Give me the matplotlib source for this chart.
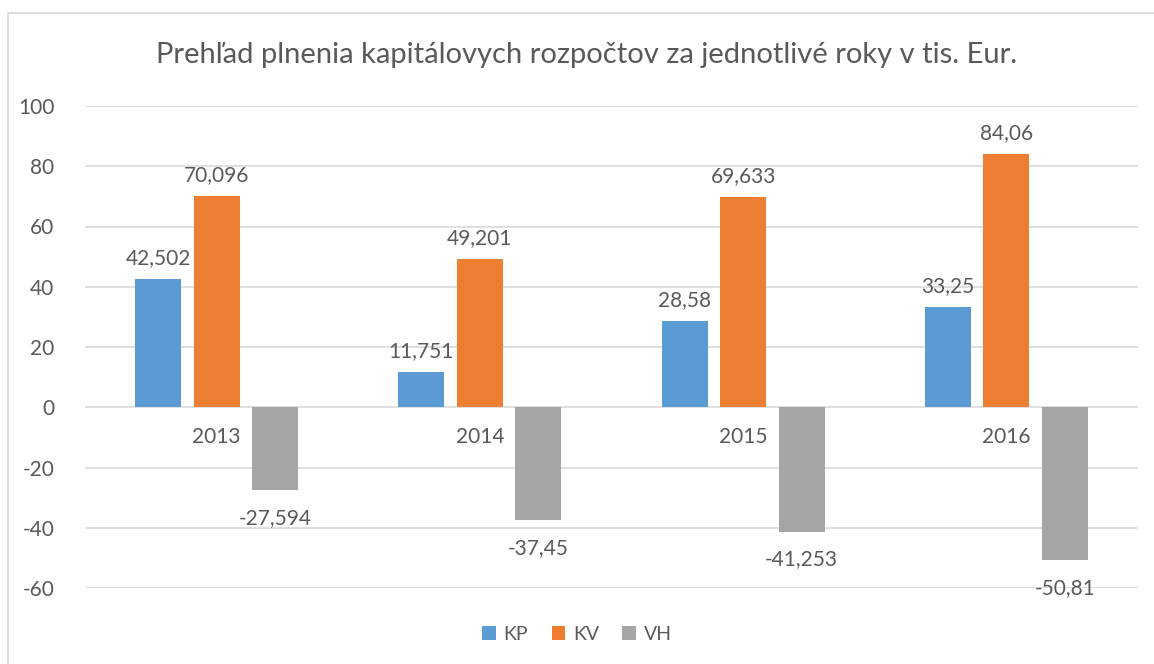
import numpy as np
import matplotlib.pyplot as plt
from matplotlib.patches import Rectangle

# data
years = ["2013", "2014", "2015", "2016"]
kp = [42.502, 11.751, 28.58, 33.25]
kv = [70.096, 49.201, 69.633, 84.06]
vh = [-27.594, -37.45, -41.253, -50.81]

series = [("KP", kp, "#5B9BD5"), ("KV", kv, "#ED7D31"), ("VH", vh, "#A5A5A5")]
text_col = "#595959"

plt.rcParams['font.family'] = ['Lato', 'DejaVu Sans']
plt.rcParams['axes.unicode_minus'] = False

fig = plt.figure(figsize=(11.54, 6.64), dpi=100)
ax = fig.add_axes([85 / 1154, 1 - 588 / 664, (1138 - 85) / 1154, (588 - 106) / 664])

# chart border (top and left visible)
fig.patches.append(Rectangle((8 / 1154, -0.1), 1.2, 1 - 13 / 664 + 0.1, transform=fig.transFigure,
                             fill=False, edgecolor="#D9D9D9", linewidth=1.2))

x = np.arange(len(years))
w = 0.175
step = 0.222
for i, (name, vals, col) in enumerate(series):
    bars = ax.bar(x + (i - 1) * step, vals, w, color=col, label=name, zorder=3)
    labels = [str(v).replace(".", ",") for v in vals]
    pad = 8 if name != "VH" else 13
    ax.bar_label(bars, labels=labels, padding=pad, fontsize=15, color=text_col)

ax.set_xlim(-0.5, 3.5)
ax.set_ylim(-60, 100)
ax.set_yticks(range(-60, 101, 20))
ax.yaxis.grid(True, color="#D9D9D9", linewidth=1.2, zorder=0)
ax.set_axisbelow(True)
ax.set_xticks([])
ax.tick_params(axis="y", length=0, labelsize=15, labelcolor=text_col, pad=22)
for s in ax.spines.values():
    s.set_visible(False)

# category labels sit on the zero line
for xi, yr in zip(x, years):
    ax.annotate(yr, (xi, 0), xytext=(0, -30), textcoords="offset pixels",
                ha="center", va="center", fontsize=15, color=text_col)

fig.text(587 / 1154, 1 - 55 / 664, "Prehľad plnenia kapitálovych rozpočtov za jednotlivé roky v tis. Eur.",
         ha="center", va="center", fontsize=21, color=text_col)

ax.legend(loc="center", bbox_to_anchor=(0.5, 1 - 634 / 664), bbox_transform=fig.transFigure,
          ncol=3, frameon=False, fontsize=14, labelcolor=text_col, handlelength=0.7,
          handleheight=0.7, handletextpad=0.4, columnspacing=1.2)

plt.savefig("out.png", dpi=100)
